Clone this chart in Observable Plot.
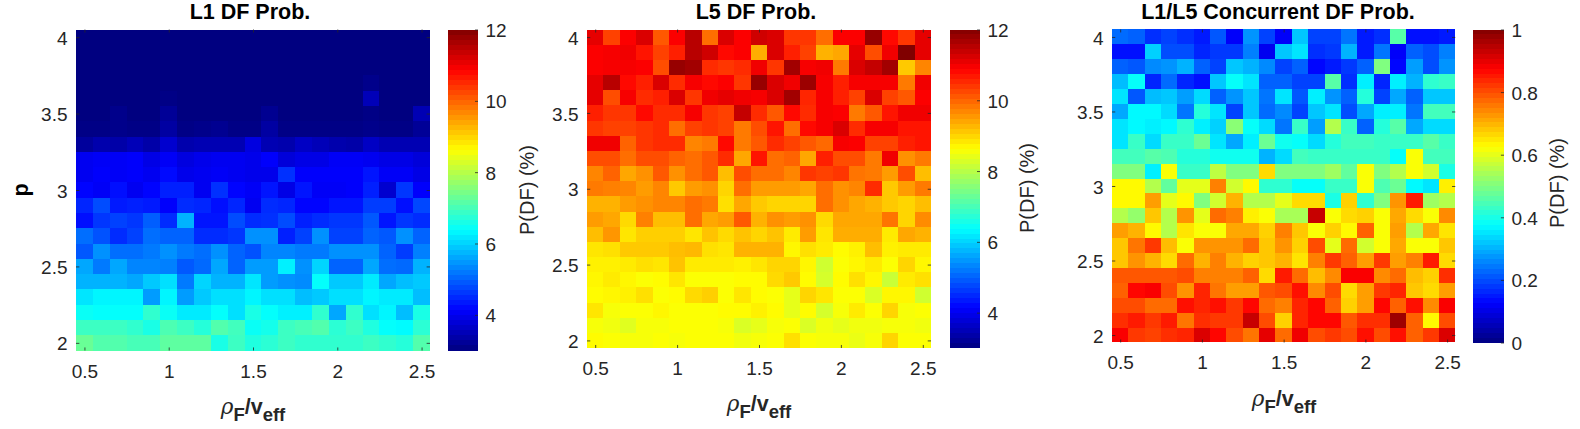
<!DOCTYPE html>
<html><head><meta charset="utf-8">
<script src="https://cdn.jsdelivr.net/npm/d3@7"></script>
<script src="https://cdn.jsdelivr.net/npm/@observablehq/plot@0.6"></script>
<style>
html,body{margin:0;background:#fff;overflow:hidden;width:1580px;height:429px}
#root{position:relative;width:1580px;height:429px;font-family:"Liberation Sans",Arial,sans-serif;color:#262626}
#root svg{position:absolute;display:block;background:transparent;overflow:visible}
.lab{position:absolute;white-space:nowrap;transform:translate(-50%,-50%);line-height:1}
.title{font-weight:bold;font-size:21.5px;color:#000}
.rot{transform:translate(-50%,-50%) rotate(-90deg)}
.cb{font-size:20px}
.xl{font-weight:bold;font-size:21.5px}
.xl .g{font-weight:normal;font-family:"DejaVu Serif",serif;font-style:italic}
.xl sub{font-size:18.5px;vertical-align:-7px;line-height:0}
</style></head><body><div id="root"></div>
<script>
const xs=[0.5,0.6,0.7,0.8,0.9,1.0,1.1,1.2,1.3,1.4,1.5,1.6,1.7,1.8,1.9,2.0,2.1,2.2,2.3,2.4,2.5];
const ys=[4.0,3.9,3.8,3.7,3.6,3.5,3.4,3.3,3.2,3.1,3.0,2.9,2.8,2.7,2.6,2.5,2.4,2.3,2.2,2.1,2.0];
const xTicks=[0.5,1,1.5,2,2.5];
const yTicks=[2,2.5,3,3.5,4];
const pctTicks=[4,6,8,10,12];
const fracTicks=[0,0.2,0.4,0.6,0.8,1];

const l1Rows=[
[3,3,3,3,3,3,3,3,3,3,3,3,3,3,3,3,3,3,3,3,3],
[3,3,3,3,3,3,3,3,3,3,3,3,3,3,3,3,3,3,3,3,3],
[3,3,3,3,3,3,3,3,3,3,3,3,3,3,3,3,3,3,3,3,3],
[3,3,3,3,3,3,3,3,3,3,3,3,3,3,3,3,3,3.1,3,3,3],
[3,3,3,3,3,3.05,3,3,3,3,3,3,3,3,3,3,3,3.5,3,3,3],
[3,3,3.1,3,3,3.2,3,3,3,3,3,3.15,3,3,3,3,3,3.05,3,3,3.45],
[3.05,3.05,3.1,3.05,3.05,3.3,3.05,3.1,3.15,3.05,3.05,3.3,3.05,3.05,3.05,3.05,3.05,3.1,3.05,3.05,3.2],
[3.25,3.4,3.35,3.5,3.35,3.7,3.4,3.45,3.45,3.45,3.85,3.45,3.4,3.6,3.5,3.4,3.35,3.6,3.45,3.45,3.45],
[4,4.05,4.05,4.1,3.9,4.05,3.85,3.95,4,4,3.95,4.1,3.8,3.9,3.9,4.05,4.05,4,3.9,3.9,3.8],
[4,4.1,4.05,4.1,4,4.2,3.95,4,4.05,4,3.95,3.95,4.55,4.1,4.1,4.1,4.1,4.3,4.05,4.05,3.9],
[4.15,4.05,4.25,4,4.15,4.4,4.4,4,4.55,4.15,4.05,4.3,3.9,4.3,4.05,4.05,4.1,4.4,3.7,4.6,4.1],
[4.45,4.8,4.35,4.4,4.35,4.1,4.5,4.45,4.25,4.45,4,4.5,4.45,4.15,4.15,4.3,4.3,4.65,4.65,4.25,4.75],
[4.25,4.6,4.7,4.6,4.95,4.5,5.7,4.3,4.3,4.8,4.5,4.55,4.8,4.4,4.5,4.6,4.6,4.9,4.3,4.6,4.5],
[5.1,4.85,4.5,4.7,5.1,5,5,4.5,4.5,4.6,5.4,5.4,4.4,4.7,5.4,4.7,4.7,5,4.9,5.4,5],
[4.9,5.4,5.1,5.1,5.2,5.4,5.2,5.1,5.4,5,4.85,5.3,5.3,5.2,5.2,5.4,5.4,5.4,5,4.65,5.25],
[5.6,5.2,5.6,5.3,5.3,5.25,4.9,5.05,5.6,5,5.5,5.5,6.25,5.4,6,5,5,5.6,5.1,5.05,5.7],
[5.7,5.7,5.7,5.6,5.9,6.1,5.2,6,5.7,5.7,6.15,5.5,5.4,5.35,6.4,5.9,5.9,6.2,5.6,5.8,5.9],
[6.15,6.3,6.3,6.3,5.5,6.3,5.5,5.9,6.1,6.1,6.3,6.1,6.1,5.8,5.9,6.1,6.1,6.3,6.2,6.2,5.8],
[6.45,6.4,6.4,6.4,6.8,6.45,6.2,6.2,6.4,6.1,6.6,6.4,6.25,6.25,6.8,5.6,6.8,6.1,6.3,5.8,6.6],
[6.9,6.9,6.9,6.8,6.6,7.05,6.9,6.7,7.1,6.95,6.45,6.55,6.9,7,7.1,6.75,6.9,6.65,6.4,6.35,6.75],
[7.3,7.1,7.1,7,7,7.2,7.2,7.2,6.6,6.9,6.65,6.75,6.9,6.8,6.8,6.8,6.8,6.9,6.8,6.7,7.1]];

const l5Rows=[
[11.1,10.3,10.9,11.2,10.1,10.9,11.5,9.9,11.2,10.9,11.3,11.2,10.4,10.4,9.9,10.9,10.9,11.8,10.8,10.4,11.1],
[10.9,10.95,11,10.7,10.3,10.6,11.5,11.3,10.8,10.9,9.35,11.2,10.6,10.3,9.3,9.4,11.1,10.2,11,12,11.1],
[10.9,10.95,10.95,10.9,10.2,11.8,11.7,10.5,10.4,10.5,11,10.4,11.7,10.95,11,9.8,11.2,11.4,11.7,9.1,9.7],
[11.1,11.5,10.8,10.6,11.2,10.5,10.95,10.8,10.9,10.4,11.8,11.2,11,11.75,10.95,10.6,10.95,10.95,10.95,9.8,11],
[11.1,10.2,10.95,10.5,10.6,11.2,10.4,11,11.1,11,10.95,11.2,11.7,10.55,10.95,10.6,10.3,11.2,10.3,10.1,10.9],
[10.6,10.4,10.4,10.8,10.5,10.5,10.95,10.4,10.3,11.4,10.5,10.1,10.8,10.5,10.95,10.9,9.8,10.1,10.7,11,11],
[10.4,10.3,10.3,10.4,10.5,9.9,10.3,10.4,10.3,9.8,10.2,10.7,9.9,10.8,10.95,11.2,10.5,10.95,10.95,10.7,10.7],
[11,11,10,10.4,10.5,10.5,9.7,9.8,10.8,9.8,10.1,10.5,10.3,10.1,9.95,10.95,10.9,10.3,10.3,10.6,10.7],
[10.2,10.2,9.9,10.2,10.2,10,9.9,10.1,10.5,9.4,10.7,9.9,10,9.4,10.6,10.2,10.2,9.8,11,9.6,9.8],
[9.7,10,9.4,9.6,10.1,9.6,9.9,10.1,9.2,10.2,9.9,9.9,9.7,10.4,10.3,10.4,9.85,9.8,9.5,10.2,9.2],
[9.8,9.75,9.7,9.5,9.7,9.1,9.5,9.6,9,9.9,9.5,9.5,9.5,9.4,9.9,9.6,9.7,10.5,9.1,9.5,9.8],
[9.3,9.3,9.5,9.6,9.7,9.7,9.9,9.8,8.9,9.4,9.1,9,9,9,9.9,9.6,9.4,9.3,9.1,9,9.2],
[9.5,9.4,8.95,9.75,9.2,9.2,9.9,9.4,9.5,10.1,9.3,9.6,9.5,9.6,8.95,9.4,9.4,9.4,9.85,9,9.65],
[9.2,9.55,8.85,9.05,9.05,9.05,8.85,9.15,8.95,9.15,9,9.15,8.8,9.5,8.85,9.35,9.35,9.35,8.8,9.4,9.3],
[8.85,8.9,9.1,9.1,9.1,9.2,9.25,8.9,8.85,9.3,9.3,9.3,8.7,8.9,8.8,8.65,8.75,9.2,8.75,8.8,8.8],
[8.75,8.75,8.8,8.9,8.85,9.15,8.8,8.8,8.8,8.75,8.85,9,9,8.7,8.2,8.6,8.7,8.8,8.6,9,8.7],
[8.7,8.8,8.7,8.6,8.65,8.85,8.6,8.6,8.6,8.65,8.65,8.95,9.1,8.65,8.25,8.65,8.9,8.7,8.15,8.8,8.9],
[8.65,8.7,8.75,8.9,8.6,8.65,8.95,9.05,8.6,8.85,8.65,8.6,8.4,9,8.85,8.6,8.6,8.3,8.7,8.7,8.2],
[8.85,8.55,8.6,8.6,8.7,8.6,8.6,8.6,8.65,8.65,8.75,8.65,8.4,8.65,8.25,8.55,8.8,8.6,9,8.55,8.6],
[8.55,8.5,8.35,8.55,8.55,8.6,8.6,8.6,8.55,8.3,8.4,8.55,8.6,8.3,8.5,8.4,8.5,8.5,8.55,8.55,8.5],
[8.65,8.6,8.55,8.55,8.6,8.55,8.6,8.6,8.6,8.5,8.55,8.6,8.9,8.6,8.55,8.55,8.45,8.55,9,8.6,8.6]];

const concurrentRows=[
[.23,.22,.17,.19,.17,.15,.21,.12,.27,.19,.12,.32,.19,.19,.24,.15,.17,.46,.14,.14,.15],
[.14,.14,.33,.2,.2,.16,.18,.18,.25,.11,.32,.35,.17,.18,.3,.15,.24,.12,.22,.2,.25],
[.22,.21,.26,.27,.3,.22,.19,.32,.3,.26,.19,.22,.13,.15,.18,.22,.5,.13,.28,.2,.27],
[.31,.38,.16,.23,.16,.14,.32,.38,.35,.22,.22,.19,.19,.46,.17,.36,.16,.36,.3,.42,.43],
[.35,.21,.31,.32,.28,.34,.22,.27,.32,.24,.35,.21,.36,.27,.22,.41,.19,.29,.22,.32,.32],
[.29,.37,.37,.34,.24,.41,.35,.19,.32,.23,.26,.19,.32,.35,.2,.29,.36,.36,.24,.44,.44],
[.35,.37,.36,.37,.42,.36,.33,.51,.38,.34,.24,.43,.28,.55,.43,.22,.41,.46,.29,.34,.34],
[.35,.43,.34,.43,.43,.48,.35,.29,.36,.48,.39,.38,.34,.41,.44,.44,.43,.43,.43,.46,.43],
[.44,.44,.46,.45,.41,.41,.39,.39,.39,.3,.34,.44,.43,.43,.43,.43,.43,.38,.62,.44,.44],
[.5,.5,.36,.62,.43,.43,.56,.5,.5,.66,.5,.5,.5,.53,.47,.62,.5,.55,.62,.58,.4],
[.63,.63,.55,.47,.6,.6,.75,.58,.63,.42,.42,.38,.38,.43,.43,.62,.45,.48,.37,.35,.64],
[.63,.63,.72,.6,.63,.5,.58,.7,.55,.55,.6,.66,.66,.4,.67,.42,.5,.73,.85,.53,.55],
[.55,.52,.68,.55,.73,.6,.77,.75,.64,.62,.54,.54,.93,.62,.66,.67,.62,.71,.66,.62,.74],
[.72,.7,.63,.55,.65,.62,.62,.71,.71,.67,.75,.68,.62,.67,.63,.78,.62,.72,.55,.71,.65],
[.68,.76,.82,.69,.62,.73,.73,.73,.77,.68,.73,.67,.8,.6,.77,.58,.62,.71,.62,.62,.68],
[.68,.73,.7,.66,.77,.7,.75,.7,.67,.68,.7,.65,.75,.82,.78,.72,.82,.72,.75,.85,.66],
[.79,.79,.79,.79,.8,.75,.75,.75,.78,.66,.85,.77,.69,.74,.88,.88,.74,.77,.69,.67,.83],
[.78,.87,.88,.8,.73,.84,.76,.72,.72,.79,.8,.86,.74,.8,.66,.72,.82,.84,.68,.66,.72],
[.8,.8,.77,.77,.86,.84,.86,.82,.87,.77,.75,.84,.87,.78,.67,.72,.87,.78,.86,.74,.88],
[.83,.85,.82,.85,.76,.83,.82,.82,.93,.8,.67,.84,.87,.87,.79,.83,.83,.97,.78,.63,.8],
[.88,.82,.81,.83,.84,.91,.87,.8,.76,.9,.77,.89,.8,.82,.8,.86,.8,.86,.78,.82,.91]];

const jetColors=["#000080","#0000ff","#00ffff","#ffff00","#ff0000","#800000"];
const jetStops=[0,1/8,3/8,5/8,7/8,1];
const INK="#262626", FS=19;
const root=document.getElementById("root");

function jet(lo,hi){return {type:"linear",domain:jetStops.map(t=>lo+(hi-lo)*t),range:jetColors,interpolate:"rgb"};}
function place(svg,left){svg.style.left=left+"px";svg.style.top="0px";root.appendChild(svg);}
function label(html,x,y,cls){const d=document.createElement("div");d.className="lab "+cls;d.innerHTML=html;d.style.left=x+"px";d.style.top=y+"px";root.appendChild(d);}

function heat(rows,lo,hi,g){
  const data=rows.flatMap((r,i)=>r.map((v,j)=>({x:xs[j],y:ys[i],v})));
  const W=g.x1-g.x0;
  const t=0.02;
  const svg=Plot.plot({
    width:W+100,height:g.y1+50,
    marginLeft:70,marginRight:30,marginTop:g.y0,marginBottom:50,
    style:{background:"transparent",fontFamily:"'Liberation Sans',Arial,sans-serif",fontSize:FS+"px",color:INK},
    x:{domain:[0.45,2.55],label:null},
    y:{domain:[1.95,4.05],label:null},
    color:jet(lo,hi),
    marks:[
      Plot.rect(data,{x1:d=>d.x-0.05,x2:d=>d.x+0.05,y1:d=>d.y-0.05,y2:d=>d.y+0.05,fill:"v",inset:0,shapeRendering:"crispEdges"}),
      Plot.ruleY(yTicks,{x1:0.45,x2:0.45+t,stroke:INK,strokeWidth:0.8}),
      Plot.ruleY(yTicks,{x1:2.55-t,x2:2.55,stroke:INK,strokeWidth:0.8}),
      Plot.ruleX(xTicks,{y1:1.95,y2:1.95+t,stroke:INK,strokeWidth:0.8}),
      Plot.ruleX(xTicks,{y1:4.05-t,y2:4.05,stroke:INK,strokeWidth:0.8}),
      Plot.axisX(xTicks,{tickSize:0,tickPadding:13,label:null,tickFormat:d=>String(d),fontSize:FS,color:INK}),
      Plot.axisY(yTicks,{tickSize:0,tickPadding:9,label:null,tickFormat:d=>String(d),fontSize:FS,color:INK,dy:1})
    ]
  });
  svg.style.width=(W+100)+"px";
  place(svg,g.x0-70);
}
function bar(ticks,lo,hi,g){
  const levels=d3.range(64);
  const step=(hi-lo)/64;
  const W=g.x1-g.x0;
  const svg=Plot.plot({
    width:W+60,height:g.y1+50,
    marginLeft:0,marginRight:60,marginTop:g.y0,marginBottom:50,
    style:{background:"transparent",fontFamily:"'Liberation Sans',Arial,sans-serif",fontSize:FS+"px",color:INK},
    x:{domain:[0,1],axis:null},
    y:{domain:[lo,hi],label:null},
    color:jet(lo,hi),
    marks:[
      Plot.rect(levels,{x1:0,x2:1,y1:i=>lo+i*step,y2:i=>lo+(i+1)*step,fill:i=>lo+(i+0.5)*step,shapeRendering:"crispEdges"}),
      Plot.ruleY(ticks,{x1:0.9,x2:1,stroke:INK,strokeWidth:0.8}),
      Plot.axisY(ticks,{anchor:"right",tickSize:0,tickPadding:7,label:null,tickFormat:d=>String(d),fontSize:FS,color:INK,dy:1})
    ]
  });
  svg.style.width=(W+60)+"px";
  place(svg,g.x0);
}
const xLabel='<span class="g">ρ</span><sub>F</sub>/v<sub>eff</sub>';

heat(l1Rows,3,12,{x0:75.5,x1:429.5,y0:29.5,y1:350.5});
bar(pctTicks,3,12,{x0:448,x1:478,y0:29.5,y1:350.5});
label("L1 DF Prob.",250,13,"title");
label("p",22,190,"rot title");
label("P(DF) (%)",527,190,"rot cb");
label(xLabel,253,407,"xl");

heat(l5Rows,3,12,{x0:586.7,x1:930.7,y0:29.5,y1:348});
bar(pctTicks,3,12,{x0:949.5,x1:979.5,y0:29.5,y1:348});
label("L5 DF Prob.",756,13,"title");
label("P(DF) (%)",1027,188,"rot cb");
label(xLabel,759,404,"xl");

heat(concurrentRows,0,1,{x0:1111.7,x1:1455,y0:29.5,y1:342.5});
bar(fracTicks,0,1,{x0:1473,x1:1504,y0:29.5,y1:342.5});
label("L1/L5 Concurrent DF Prob.",1278,13,"title");
label("P(DF) (%)",1557,183,"rot cb");
label(xLabel,1284,399,"xl");
</script></body></html>
